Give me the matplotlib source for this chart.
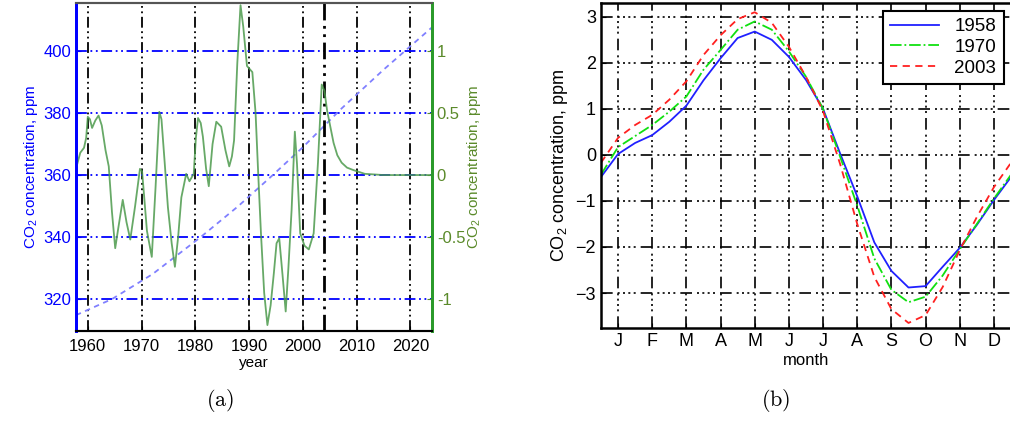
import matplotlib
matplotlib.use("Agg")
import matplotlib.pyplot as plt

plt.rcParams['font.family'] = ['Liberation Sans', 'DejaVu Sans']
plt.rcParams['mathtext.fontset'] = 'custom'
plt.rcParams['mathtext.rm'] = 'Liberation Sans'
plt.rcParams['mathtext.it'] = 'Liberation Sans'

# (a) trend of CO2 concentration (left axis, ppm)
trend_years = [1957.8, 1964.5, 1972, 1981, 1988, 1994.4, 2000, 2007.2, 2015, 2023.9]
trend_ppm = [314.8, 320, 328, 340, 350, 360, 369, 381.5, 394, 407.5]

# (a) residual (right axis, ppm)
res_years = [1957.8, 1958.6, 1959.3, 1959.7, 1960.0, 1960.4, 1960.8, 1961.4, 1962.0, 1962.6,
             1963.3, 1963.9, 1964.5, 1965.1, 1965.7, 1966.5, 1967.2, 1967.9, 1968.8, 1969.7,
             1970.1, 1971.0, 1971.9, 1972.6, 1973.3, 1973.7, 1974.3, 1974.9, 1975.6, 1976.2,
             1976.8, 1977.4, 1978.3, 1978.9, 1979.7, 1980.1, 1980.5, 1981.0, 1981.4, 1982.0,
             1982.5, 1983.2, 1983.9, 1984.8, 1985.6, 1986.3, 1986.8, 1987.2, 1987.8, 1988.4,
             1988.9, 1989.6, 1990.6, 1991.2, 1991.7, 1992.2, 1992.8, 1993.4, 1994.0, 1994.6,
             1995.1, 1995.6, 1996.2, 1996.8, 1997.3, 1997.9, 1998.5, 1998.9, 1999.5, 2000.3,
             2001.1, 2002.0, 2002.8, 2003.5, 2004.0, 2004.5, 2005.7, 2006.4, 2007.2, 2008.2,
             2009.4, 2011.5, 2015.0, 2024.0]
res_ppm = [0.05, 0.18, 0.22, 0.30, 0.47, 0.45, 0.38, 0.44, 0.48, 0.40,
           0.20, 0.07, -0.30, -0.59, -0.42, -0.20, -0.38, -0.52, -0.25, 0.05,
           0.03, -0.45, -0.66, -0.10, 0.51, 0.45, 0.10, -0.26, -0.55, -0.74,
           -0.50, -0.18, 0.01, -0.05, 0.01, 0.30, 0.46, 0.42, 0.31, 0.05,
           -0.09, 0.25, 0.43, 0.39, 0.20, 0.07, 0.15, 0.28, 0.90, 1.37,
           1.20, 0.88, 0.83, 0.50, 0.00, -0.47, -0.95, -1.21, -1.05, -0.79,
           -0.55, -0.51, -0.80, -1.10, -0.75, -0.28, 0.35, 0.09, -0.47, -0.57,
           -0.60, -0.47, 0.10, 0.73, 0.68, 0.52, 0.26, 0.16, 0.10, 0.06,
           0.04, 0.01, 0.0, 0.0]

# (b) seasonal cycle
month_pos = [i * 0.5 for i in range(25)]
month_labels = ['J', 'F', 'M', 'A', 'M', 'J', 'J', 'A', 'S', 'O', 'N', 'D']
cycle_1958 = [-0.48, 0.02, 0.26, 0.43, 0.72, 1.07, 1.62, 2.1, 2.54, 2.68, 2.5, 2.13, 1.63,
              1.0, 0.03, -0.9, -1.9, -2.52, -2.88, -2.85, -2.43, -2.02, -1.52, -0.98, -0.48]
cycle_1970 = [-0.43, 0.17, 0.41, 0.65, 0.94, 1.27, 1.85, 2.28, 2.72, 2.9, 2.72, 2.25, 1.7,
              1.0, -0.04, -1.1, -2.25, -2.93, -3.2, -3.08, -2.62, -2.05, -1.5, -0.95, -0.43]
cycle_2003 = [-0.17, 0.37, 0.65, 0.87, 1.2, 1.6, 2.17, 2.6, 2.95, 3.1, 2.87, 2.35, 1.7,
              0.95, -0.2, -1.5, -2.65, -3.35, -3.65, -3.48, -2.87, -2.07, -1.35, -0.7, -0.17]

co2_label = 'CO$_2$ concentration, ppm'
grid_dash = (0, (6, 2, 1, 2, 1, 2))

fig = plt.figure(figsize=(10.1, 4.25), dpi=100)

# ---- panel (a) ----
ax1 = fig.add_axes([0.0752, 0.2212, 0.3525, 0.7717])
ax1.plot(trend_years, trend_ppm, color='#8080ff', lw=1.3, dashes=(3, 2.5))
ax1.set_xlim(1957.8, 2024)
ax1.set_ylim(309.7, 415.5)
ax1.set_xticks([1960, 1970, 1980, 1990, 2000, 2010, 2020])
ax1.set_yticks([320, 340, 360, 380, 400])
ax1.xaxis.grid(True, color='k', linestyle=grid_dash, lw=1.3)
ax1.yaxis.grid(True, color='blue', linestyle=grid_dash, lw=1.3)
ax1.axvline(2004, color='k', linestyle=grid_dash, lw=2.0)
ax1.tick_params(axis='y', colors='blue', labelsize=12, direction='in')
ax1.tick_params(axis='x', labelsize=12, direction='in', pad=6)
ax1.set_ylabel(co2_label, color='blue', fontsize=11, labelpad=2)
ax1.set_xlabel('year', fontsize=11, labelpad=1)

ax2 = ax1.twinx()
ax2.plot(res_years, res_ppm, color='#4c9a4c', lw=1.3, alpha=0.85)
ax2.set_ylim(-1.2575, 1.3875)
ax2.set_yticks([-1, -0.5, 0, 0.5, 1])
ax2.set_yticklabels(['-1', '-0.5', '0', '0.5', '1'])
ax2.tick_params(axis='y', colors='#5a8a2a', labelsize=12, direction='in')
ax2.set_ylabel(co2_label, color='#5a8a2a', fontsize=11, rotation=90, labelpad=0)
for a in (ax1, ax2):
    a.spines['left'].set_color('blue')
    a.spines['right'].set_color('#2a9a2a')
    a.spines['top'].set_color('#555555')
    for s in a.spines.values():
        s.set_linewidth(1.5)
    a.spines['left'].set_linewidth(2)
    a.spines['right'].set_linewidth(2)

# ---- panel (b) ----
ax3 = fig.add_axes([0.595, 0.2282, 0.406, 0.7647])
ax3.plot(month_pos, cycle_1958, color='#2020ff', lw=1.3, label='1958')
ax3.plot(month_pos, cycle_1970, color='#10e010', lw=1.3, linestyle='-.', label='1970')
ax3.plot(month_pos, cycle_2003, color='#ff2020', lw=1.3, dashes=(4, 3), label='2003')
ax3.set_xlim(0, 12)
ax3.set_ylim(-3.76, 3.3)
ax3.set_xticks([i + 0.5 for i in range(12)])
ax3.set_xticklabels(month_labels)
ax3.set_yticks([-3, -2, -1, 0, 1, 2, 3])
ax3.set_yticklabels(['\u22123', '\u22122', '\u22121', '0', '1', '2', '3'])
ax3.grid(True, color='k', linestyle=(0, (7, 3, 1.2, 2, 1.2, 2, 1.2, 2, 1.2, 3)), lw=1.2)
ax3.tick_params(labelsize=13, direction='in')
ax3.set_xlabel('month', fontsize=12, labelpad=2)
ax3.set_ylabel(co2_label, fontsize=13, labelpad=4)
for s in ax3.spines.values():
    s.set_linewidth(1.8)
leg = ax3.legend(loc='upper right', fontsize=13.5, fancybox=False, edgecolor='k',
                 framealpha=1, handlelength=2.6, borderaxespad=0.4, labelspacing=0.2)
leg.get_frame().set_linewidth(1.5)

fig.text(0.218, 0.045, r'$\mathrm{(a)}$', fontsize=16, ha='center', math_fontfamily='cm')
fig.text(0.768, 0.045, r'$\mathrm{(b)}$', fontsize=16, ha='center', math_fontfamily='cm')

fig.savefig('out.png', dpi=100)
